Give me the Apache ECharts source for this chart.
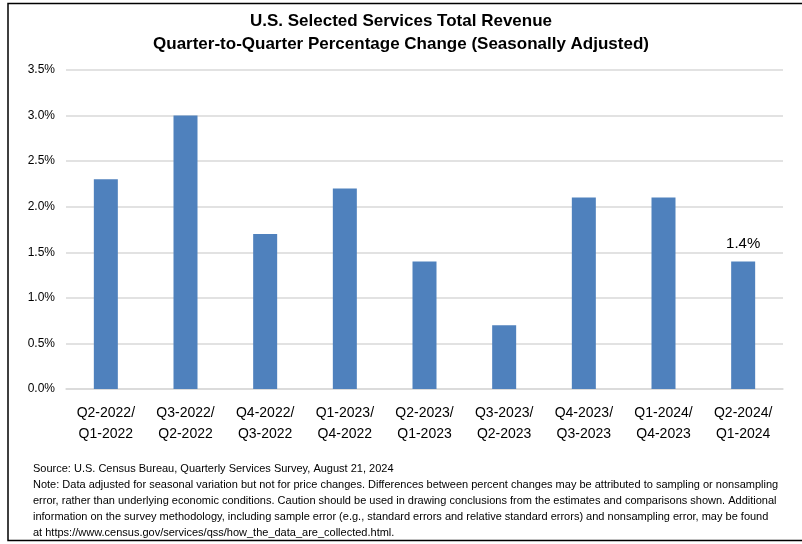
<!DOCTYPE html>
<html><head><meta charset="utf-8">
<script src="https://cdn.jsdelivr.net/npm/echarts@6/dist/echarts.min.js"></script>
<style>html,body{margin:0;padding:0;background:#fff}#c{width:802px;height:544px}</style>
</head><body><div id="c"></div>
<script>
var categories = ['Q2-2022/\nQ1-2022','Q3-2022/\nQ2-2022','Q4-2022/\nQ3-2022','Q1-2023/\nQ4-2022','Q2-2023/\nQ1-2023','Q3-2023/\nQ2-2023','Q4-2023/\nQ3-2023','Q1-2024/\nQ4-2023','Q2-2024/\nQ1-2024'];
var values = [2.3, 3.0, 1.7, 2.2, 1.4, 0.7, 2.1, 2.1, 1.4];
var labelIndex = 8;
var titleLines = ['U.S. Selected Services Total Revenue','Quarter-to-Quarter Percentage Change (Seasonally Adjusted)'];
var noteLines = [
 'Source: U.S. Census Bureau, Quarterly Services Survey, August 21, 2024',
 'Note: Data adjusted for seasonal variation but not for price changes. Differences between percent changes may be attributed to sampling or nonsampling',
 'error, rather than underlying economic conditions. Caution should be used in drawing conclusions from the estimates and comparisons shown. Additional',
 'information on the survey methodology, including sample error (e.g., standard errors and relative standard errors) and nonsampling error, may be found',
 'at https://www.census.gov/services/qss/how_the_data_are_collected.html.'
];
var F = '"Liberation Sans", Arial, sans-serif';
var chart = echarts.init(document.getElementById('c'));
var graphics = [
 {type:'rect', shape:{x:8,y:3.5,width:810,height:537}, style:{fill:'none',stroke:'#000',lineWidth:1.5}, z:10},
 {type:'text', left:'center', top:13, style:{text:titleLines[0], font:'bold 17px '+F, fill:'#000', textAlign:'center'}},
 {type:'text', left:'center', top:36, style:{text:titleLines[1], font:'bold 17px '+F, fill:'#000', textAlign:'center'}}
];
noteLines.forEach(function(t,i){
 graphics.push({type:'text', left:33, top:463+i*16, style:{text:t, font:'11px '+F, fill:'#000'}});
});
chart.setOption({
 animation:false,
 grid:{left:66,right:19,top:70,bottom:155},
 graphic:graphics,
 xAxis:{type:'category', data:categories,
   axisLine:{lineStyle:{color:'#d9d9d9',width:1.5}}, axisTick:{show:false},
   axisLabel:{interval:0, color:'#000', fontSize:14, fontFamily:F, lineHeight:21, margin:14}},
 yAxis:{type:'value', min:0, max:3.5, interval:0.5,
   axisLabel:{color:'#000', fontSize:12, fontFamily:F, margin:11, formatter:function(v){return v.toFixed(1)+'%';}},
   splitLine:{lineStyle:{color:'#d9d9d9',width:1.5}}, axisLine:{show:false}, axisTick:{show:false}},
 series:[{type:'bar', data:values.map(function(v,i){
     return i===labelIndex ? {value:v,label:{show:true}} : v;}),
   barWidth:24, itemStyle:{color:'#4f81bd'},
   label:{show:false, position:'top', distance:10, color:'#000', fontSize:15, fontFamily:F, formatter:function(p){return p.value.toFixed(1)+'%';}}}]
});
</script></body></html>
